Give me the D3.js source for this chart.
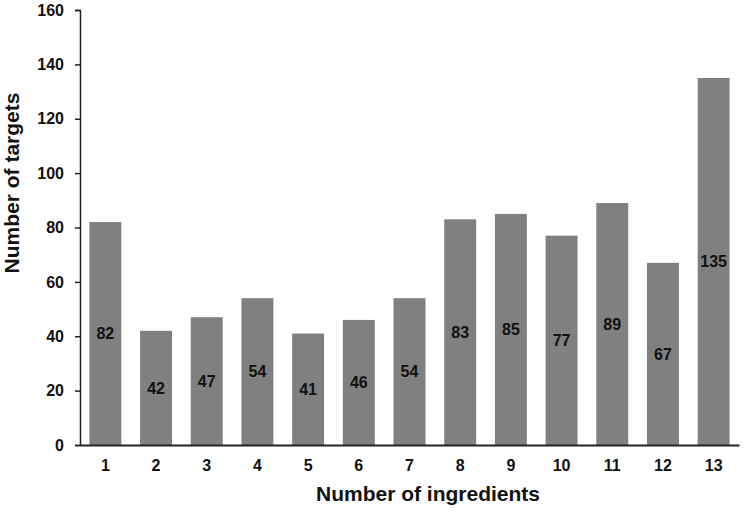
<!DOCTYPE html>
<html>
<head>
<meta charset="utf-8">
<script src="https://cdn.jsdelivr.net/npm/d3@7"></script>
<style>
  body { margin: 0; background: #fff; }
  text { font-family: "Liberation Sans", Arial, sans-serif; font-weight: bold; fill: #111; }
</style>
</head>
<body>
<svg id="chart" width="744" height="517"></svg>
<script>
let categories = ['1', '2', '3', '4', '5', '6', '7', '8', '9', '10', '11', '12', '13']
let values = [82, 42, 47, 54, 41, 46, 54, 83, 85, 77, 89, 67, 135]
let yTicks = [0, 20, 40, 60, 80, 100, 120, 140, 160]

let margin = {top: 10, right: 5, bottom: 72, left: 80}
let width = 744 - margin.left - margin.right
let height = 517 - margin.top - margin.bottom

let svg = d3.select('#chart')
let g = svg.append('g')
    .attr('transform', 'translate(' + margin.left + ',' + margin.top + ')')

let x = d3.scaleBand()
    .range([0, width])
    .domain(categories)
    .paddingInner(0.37)
    .paddingOuter(0.185)

let y = d3.scaleLinear()
    .range([height, 0])
    .domain([0, 160])

g.selectAll('.bar')
    .data(values)
  .enter().append('rect')
    .attr('class', 'bar')
    .attr('x', (d, i) => x(categories[i]))
    .attr('y', d => y(d))
    .attr('width', x.bandwidth())
    .attr('height', d => height - y(d))
    .attr('fill', '#808080')

g.selectAll('.label')
    .data(values)
  .enter().append('text')
    .attr('class', 'label')
    .attr('x', (d, i) => x(categories[i]) + x.bandwidth() / 2)
    .attr('y', d => (y(d) + height) / 2)
    .attr('dy', '0.35em')
    .attr('text-anchor', 'middle')
    .style('font-size', '16px')
    .text(d => d)

let yAxis = g.append('g')
    .call(d3.axisLeft(y).tickValues(yTicks).tickSize(5).tickPadding(11))
yAxis.selectAll('text').style('font-size', '16px')
yAxis.selectAll('line').attr('stroke', '#222').attr('stroke-width', 1.5)
yAxis.select('.domain').attr('stroke', '#222').attr('stroke-width', 1.5)

let xAxis = g.append('g')
    .attr('transform', 'translate(0,' + height + ')')
    .call(d3.axisBottom(x).tickSize(0).tickPadding(15).tickSizeOuter(0))
xAxis.selectAll('text').style('font-size', '16px')
xAxis.select('.domain').attr('stroke', '#222').attr('stroke-width', 2)

svg.append('text')
    .attr('x', 428)
    .attr('y', 501)
    .attr('text-anchor', 'middle')
    .style('font-size', '21px')
    .text('Number of ingredients')

svg.append('text')
    .attr('transform', 'translate(19,183) rotate(-90)')
    .attr('text-anchor', 'middle')
    .style('font-size', '21px')
    .text('Number of targets')
</script>
</body>
</html>
